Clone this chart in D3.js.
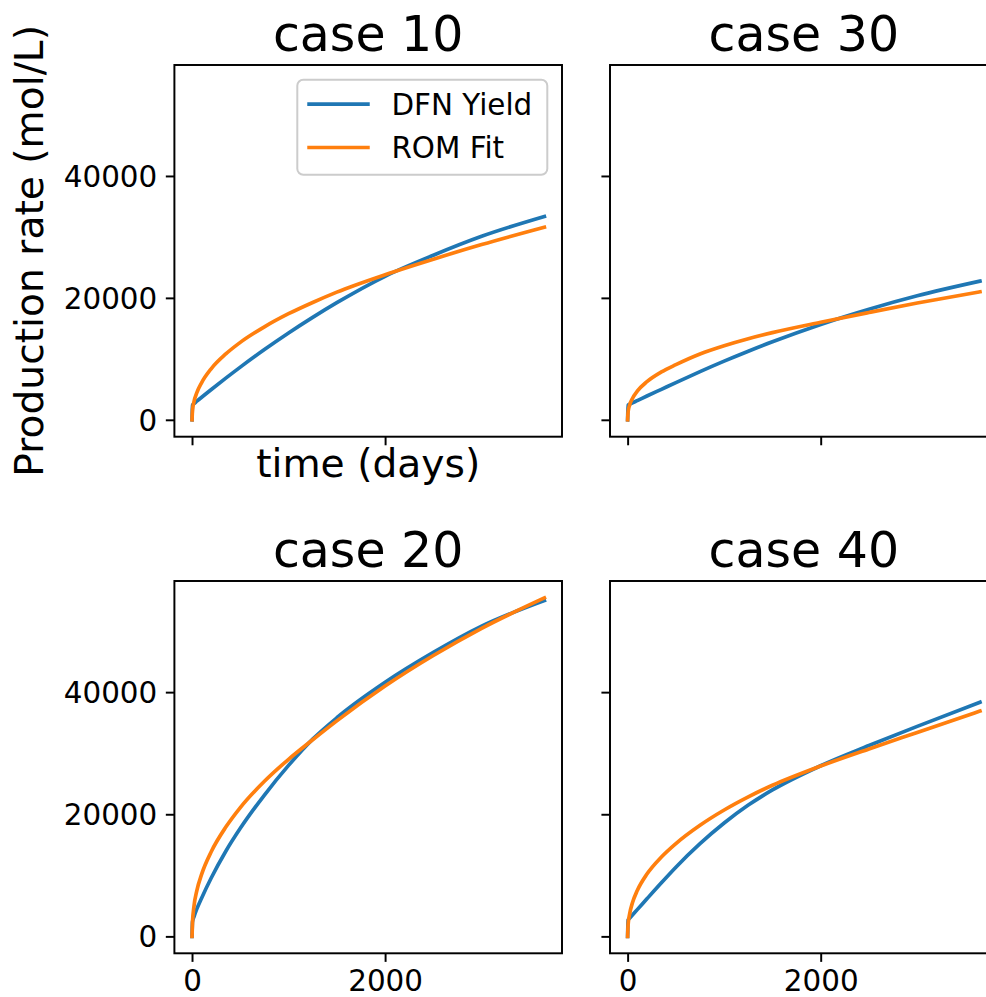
<!DOCTYPE html>
<html>
<head>
<meta charset="utf-8">
<script src="https://cdn.jsdelivr.net/npm/d3@7"></script>
<style>
  body { margin: 0; background: #fff; }
  svg { display: block; font-family: 'DejaVu Sans', sans-serif; }
</style>
</head>
<body>
<svg id="chart" width="986" height="997"></svg>
<script>
// time axis shared by every case (days)
const days = [0, 5, 20, 50, 100, 200, 350, 500, 750, 1000, 1250, 1500, 2000, 2500, 3000, 3650]

const dfn10 = [0, 2400, 2650, 3050, 3700, 4970, 6830, 8640, 11520, 14240, 16800, 19210, 23540, 27000, 30100, 33350]
const rom10 = [0, 1550, 2950, 4450, 6100, 8400, 10800, 12700, 15250, 17400, 19250, 20950, 23800, 26350, 28750, 31600]

const dfn30 = [0, 2400, 2550, 2780, 3150, 3900, 5000, 6100, 7900, 9620, 11250, 12800, 15650, 18150, 20350, 22750]
const rom30 = [0, 1300, 2400, 3500, 4700, 6250, 7850, 9050, 10800, 12150, 13300, 14300, 16000, 17600, 19150, 21000]

const dfn20 = [0, 2400, 3200, 4500, 6300, 9600, 13950, 17700, 23150, 28000, 32300, 35800, 41600, 46500, 50800, 55000]
const rom20 = [0, 2300, 4900, 7500, 10200, 13900, 17900, 21100, 25400, 29000, 32200, 35300, 41000, 46000, 50450, 55430]

const dfn40 = [0, 2700, 2970, 3500, 4380, 6150, 8780, 11330, 15180, 18560, 21500, 23980, 27950, 31250, 34400, 38350]
const rom40 = [0, 1900, 3600, 5500, 7500, 10200, 13000, 15200, 18200, 20700, 22850, 24750, 27900, 30700, 33400, 36900]

const seriesNames = ['DFN Yield', 'ROM Fit']
const colors = ['#1f77b4', '#ff7f0e']
const xTicks = [0, 2000]
const yTicks = [0, 20000, 40000]

const panels = [
    {title: 'case 10', col: 0, row: 0, series: [dfn10, rom10]},
    {title: 'case 30', col: 1, row: 0, series: [dfn30, rom30]},
    {title: 'case 20', col: 0, row: 1, series: [dfn20, rom20]},
    {title: 'case 40', col: 1, row: 1, series: [dfn40, rom40]}
]

const pt = 2.45   // px per point
const tickFont = 12 * pt
const labelFont = 16 * pt
const titleFont = 20 * pt
const tickLen = 3.5 * pt

const cols = [[174.4, 562], [610, 997.6]]
const rows = [[65, 436.7], [581, 953.3]]

const svg = d3.select('#chart')

/* shared limits with matplotlib style 5% margins */
function padded(ext) {
    const d = ext[1] - ext[0]
    return [ext[0] - d * 0.05, ext[1] + d * 0.05]
}
const xDomain = padded(d3.extent(days))
const yDomain = padded(d3.extent(panels.flatMap(p => p.series.flat())))

panels.forEach(p => {
    const [x0, x1] = cols[p.col]
    const [y0, y1] = rows[p.row]
    const x = d3.scaleLinear().domain(xDomain).range([x0, x1])
    const y = d3.scaleLinear().domain(yDomain).range([y1, y0])
    const g = svg.append('g')

    const line = d3.line()
        .x((d, i) => x(days[i]))
        .y(d => y(d))
        .curve(d3.curveMonotoneX)

    g.selectAll('path.series')
        .data(p.series)
        .enter().append('path')
        .attr('class', 'series')
        .attr('d', line)
        .attr('fill', 'none')
        .attr('stroke', (d, i) => colors[i])
        .attr('stroke-width', 1.5 * pt)
        .attr('stroke-linecap', 'square')
        .attr('stroke-linejoin', 'round')

    // x axis, labels only on the bottom row
    const gx = g.append('g')
        .attr('transform', `translate(0,${y1})`)
        .call(d3.axisBottom(x).tickValues(xTicks).tickSize(tickLen).tickPadding(tickLen)
            .tickFormat(p.row === 1 ? d3.format('d') : () => ''))
    gx.select('.domain').remove()
    gx.selectAll('line').attr('stroke-width', 0.8 * pt)
    gx.selectAll('text').attr('y', 37.5).attr('dy', null)

    // y axis, labels only on the left column
    const gy = g.append('g')
        .attr('transform', `translate(${x0},0)`)
        .call(d3.axisLeft(y).tickValues(yTicks).tickSize(tickLen).tickPadding(tickLen)
            .tickFormat(p.col === 0 ? d3.format('d') : () => ''))
    gy.select('.domain').remove()
    gy.selectAll('line').attr('stroke-width', 0.8 * pt)
    gy.selectAll('text').attr('dy', '0.36em')

    ;[gx, gy].forEach(a => a
        .attr('font-size', tickFont)
        .attr('font-family', 'DejaVu Sans, sans-serif'))

    // spines
    g.append('rect')
        .attr('x', x0).attr('y', y0)
        .attr('width', x1 - x0).attr('height', y1 - y0)
        .attr('fill', 'none')
        .attr('stroke', '#000')
        .attr('stroke-width', 0.8 * pt)

    g.append('text')
        .attr('x', (x0 + x1) / 2)
        .attr('y', y0 - 14)
        .attr('text-anchor', 'middle')
        .attr('font-size', titleFont)
        .text(p.title)

    if (p.col === 0 && p.row === 0) {
        g.append('text')
            .attr('x', (x0 + x1) / 2)
            .attr('y', 477)
            .attr('text-anchor', 'middle')
            .attr('font-size', labelFont)
            .text('time (days)')

        g.append('text')
            .attr('transform', `translate(43,${(y0 + y1) / 2}) rotate(-90)`)
            .attr('text-anchor', 'middle')
            .attr('font-size', labelFont)
            .text('Production rate (mol/L)')

        // legend, upper right
        const lw = 250, lh = 95
        const lx = x1 - 0.5 * tickFont - lw
        const ly = y0 + 0.5 * tickFont
        const lg = g.append('g').attr('transform', `translate(${lx},${ly})`)
        lg.append('rect')
            .attr('width', lw).attr('height', lh)
            .attr('rx', 6).attr('ry', 6)
            .attr('fill', '#fff').attr('fill-opacity', 0.8)
            .attr('stroke', '#cccccc').attr('stroke-width', 2)
        const item = lg.selectAll('g.item')
            .data(seriesNames)
            .enter().append('g')
            .attr('class', 'item')
            .attr('transform', (d, i) => `translate(0,${24.5 + i * 43.3})`)
        item.append('line')
            .attr('x1', 11.8).attr('x2', 11.8 + 58.8)
            .attr('stroke', (d, i) => colors[i])
            .attr('stroke-width', 1.5 * pt)
            .attr('stroke-linecap', 'square')
        item.append('text')
            .attr('x', 94.1)
            .attr('y', 10.8)
            .attr('font-size', tickFont)
            .text(d => d)
    }
})
</script>
</body>
</html>
